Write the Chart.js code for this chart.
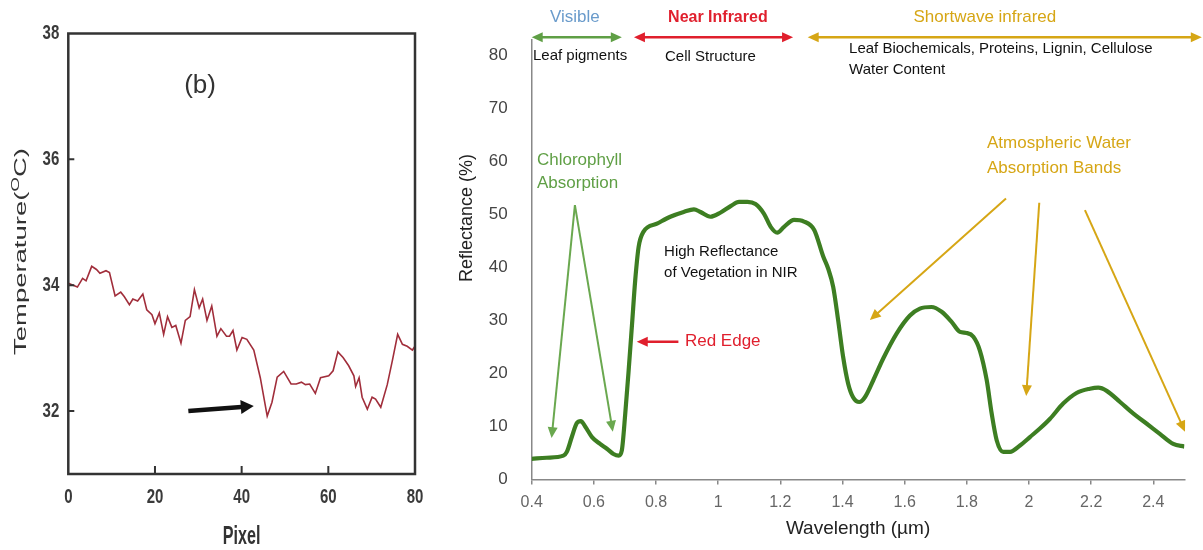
<!DOCTYPE html>
<html lang="en">
<head>
<meta charset="UTF-8">
<title>Temperature profile and vegetation reflectance</title>
<script src="https://cdn.jsdelivr.net/npm/chart.js"></script>
<style>
  body { margin: 0; background: #fff; width: 1203px; height: 550px; overflow: hidden; position: relative; }
  #left { position: absolute; left: 0; top: 0; }
  #right { position: absolute; left: 440px; top: 0; }
</style>
</head>
<body>
<canvas id="left" width="440" height="550"></canvas>
<canvas id="right" width="763" height="550"></canvas>
<script>
// ---- panel (b): temperature along a line of pixels ----
const pixelX = [0, 2.1, 3.3, 4.1, 5.4, 6.5, 7.3, 8.7, 9.5, 10.8, 12.1, 12.9, 14.1, 14.9, 16, 17.2, 18.1, 19.3, 20,
  21, 22, 22.9, 23.9, 24.8, 26, 27, 28.1, 29.1, 30.2, 31, 32, 33.1, 34.3, 35.2, 36.5, 37.2, 38, 38.9, 40.1, 41.2,
  42.8, 44.3, 45.9, 47, 48.2, 49.7, 51.4, 52.6, 53.8, 54.7, 55.7, 57, 58.2, 60.1, 61.1, 62.2, 63.4, 64.7, 65.9,
  66.3, 67.1, 67.8, 69, 70.1, 70.9, 72.1, 73.6, 74.8, 76, 77.1, 78.2, 79.4, 80];
const temperature = [34.03, 33.97, 34.11, 34.07, 34.3, 34.25, 34.19, 34.23, 34.2, 33.83, 33.89, 33.82, 33.69, 33.78,
  33.75, 33.86, 33.61, 33.53, 33.39, 33.56, 33.22, 33.5, 33.33, 33.36, 33.08, 33.44, 33.5, 33.93, 33.64, 33.78,
  33.44, 33.67, 33.19, 33.31, 33.19, 33.19, 33.28, 32.97, 33.17, 33.14, 32.97, 32.53, 31.92, 32.14, 32.54, 32.63,
  32.43, 32.43, 32.46, 32.42, 32.43, 32.28, 32.53, 32.56, 32.64, 32.94, 32.85, 32.72, 32.56, 32.39, 32.53, 32.22,
  32.03, 32.22, 32.19, 32.06, 32.42, 32.81, 33.22, 33.06, 33.03, 32.97, 33.03];
const pixelTicks = [0, 20, 40, 60, 80];
const tempTicks = [32, 34, 36, 38];

// ---- vegetation reflectance spectrum ----
const wavelength = [0.4, 0.448, 0.502, 0.513, 0.529, 0.545, 0.558, 0.572, 0.594, 0.62, 0.642, 0.663, 0.68, 0.69,
  0.701, 0.712, 0.723, 0.733, 0.744, 0.76, 0.803, 0.846, 0.889, 0.922, 0.943, 0.975, 1.008, 1.04, 1.067, 1.094,
  1.12, 1.147, 1.169, 1.19, 1.212, 1.244, 1.276, 1.309, 1.338, 1.354, 1.37, 1.386, 1.402, 1.418, 1.434, 1.454,
  1.472, 1.499, 1.531, 1.574, 1.617, 1.649, 1.686, 1.719, 1.751, 1.778, 1.799, 1.821, 1.842, 1.864, 1.88, 1.896,
  1.917, 1.939, 1.971, 2.003, 2.035, 2.067, 2.11, 2.153, 2.196, 2.223, 2.25, 2.293, 2.336, 2.379, 2.421, 2.464, 2.5];
const reflectance = [3.9, 4.1, 4.5, 5.2, 8.0, 10.6, 11.0, 10.0, 8.0, 6.7, 5.8, 4.8, 4.5, 5.5, 12.4, 20.6, 29.4,
  37.5, 43.8, 46.7, 48.2, 49.5, 50.4, 50.9, 50.4, 49.5, 50.3, 51.5, 52.3, 52.3, 51.9, 50.1, 47.6, 46.5, 47.6, 48.9,
  48.6, 47.0, 42.0, 39.7, 36.3, 30.0, 23.1, 18.1, 15.5, 14.6, 15.5, 18.7, 22.8, 27.5, 30.9, 32.2, 32.5, 31.6, 29.7,
  27.8, 27.6, 26.9, 24.3, 18.7, 12.4, 7.4, 5.2, 5.2, 6.4, 8.0, 9.6, 11.4, 14.3, 16.3, 17.1, 17.3, 16.7, 14.6, 12.4,
  10.5, 8.6, 6.7, 6.2];
const wavelengthTicks = [0.4, 0.6, 0.8, 1, 1.2, 1.4, 1.6, 1.8, 2, 2.2, 2.4];
const reflectanceTicks = [0, 10, 20, 30, 40, 50, 60, 70, 80];

// colours
const GREEN = '#5f9f45', RED = '#e01f2d', GOLD = '#d6a615', BLUE = '#6a9bcb';
const SANS = "'Liberation Sans', Arial, sans-serif";

// labels and arrows of the spectrum panel, in wavelength / reflectance units
const spectrumTexts = [
  ['Visible', 0.539, 87.1, BLUE, '17px', 'center'],
  ['Near Infrared', 0.999, 87.1, RED, 'bold 16px', 'center'],
  ['Shortwave infrared', 1.858, 87.1, GOLD, '17px', 'center'],
  ['Leaf pigments', 0.404, 79.9, '#111', '15px', 'left'],
  ['Cell Structure', 0.829, 79.6, '#111', '15px', 'left'],
  ['Leaf Biochemicals, Proteins, Lignin, Cellulose', 1.421, 81.2, '#111', '15px', 'left'],
  ['Water Content', 1.421, 77.1, '#111', '15px', 'left'],
  ['Chlorophyll', 0.417, 60.2, GREEN, '17px', 'left'],
  ['Absorption', 0.417, 55.8, GREEN, '17px', 'left'],
  ['High Reflectance', 0.826, 42.9, '#111', '15px', 'left'],
  ['of Vegetation in NIR', 0.826, 38.9, '#111', '15px', 'left'],
  ['Red Edge', 0.893, 25.95, RED, '17px', 'left'],
  ['Atmospheric Water', 1.865, 63.4, GOLD, '17px', 'left'],
  ['Absorption Bands', 1.865, 58.7, GOLD, '17px', 'left']
];
const spectrumArrows = [
  // x1, y1, x2, y2, colour, width, both ends
  [0.400, 83.3, 0.690, 83.3, GREEN, 2.5, true],
  [0.729, 83.3, 1.241, 83.3, RED, 2.5, true],
  [1.288, 83.3, 2.556, 83.3, GOLD, 2.5, true],
  [0.539, 51.7, 0.464, 7.8, '#6aa84f', 2, false],
  [0.539, 51.7, 0.661, 9.0, '#6aa84f', 2, false],
  [0.872, 25.95, 0.738, 25.95, RED, 2.5, false],
  [1.926, 52.96, 1.488, 30.04, GOLD, 2, false],
  [2.033, 52.13, 1.991, 15.72, GOLD, 2, false],
  [2.180, 50.75, 2.502, 9.0, GOLD, 2, false]
];

function head(ctx, x1, y1, x2, y2, len, half) {
  const a = Math.atan2(y2 - y1, x2 - x1), c = Math.cos(a), s = Math.sin(a);
  ctx.beginPath();
  ctx.moveTo(x2, y2);
  ctx.lineTo(x2 - len * c + half * s, y2 - len * s - half * c);
  ctx.lineTo(x2 - len * c - half * s, y2 - len * s + half * c);
  ctx.closePath();
  ctx.fill();
}

function arrow(ctx, x1, y1, x2, y2, color, width, both, len, half) {
  const a = Math.atan2(y2 - y1, x2 - x1), c = Math.cos(a), s = Math.sin(a);
  const cut = len * 0.7;
  ctx.save();
  ctx.strokeStyle = color;
  ctx.fillStyle = color;
  ctx.lineWidth = width;
  ctx.beginPath();
  ctx.moveTo(both ? x1 + cut * c : x1, both ? y1 + cut * s : y1);
  ctx.lineTo(x2 - cut * c, y2 - cut * s);
  ctx.stroke();
  head(ctx, x1, y1, x2, y2, len, half);
  if (both) head(ctx, x2, y2, x1, y1, len, half);
  ctx.restore();
}

// the old figure is squeezed sideways, so its texts are drawn with a horizontal scale
function squeezed(ctx, text, x, y, sx, align) {
  ctx.save();
  ctx.translate(x, y);
  ctx.scale(sx, 1);
  ctx.textAlign = align;
  ctx.fillText(text, 0, 0);
  ctx.restore();
}

const fixTicks = list => scale => { scale.ticks = list.map(v => ({ value: v })); };

// left panel decorations: frame, inward ticks, tick labels, titles, arrow
const leftDecor = {
  id: 'leftDecor',
  afterDraw(chart) {
    const ctx = chart.ctx, a = chart.chartArea, x = chart.scales.x, y = chart.scales.y;
    ctx.save();
    ctx.strokeStyle = '#333';
    ctx.lineWidth = 2.5;
    ctx.strokeRect(a.left, a.top, a.right - a.left, a.bottom - a.top);
    ctx.lineWidth = 2;
    ctx.beginPath();
    [20, 40, 60].forEach(v => { const px = x.getPixelForValue(v); ctx.moveTo(px, a.bottom); ctx.lineTo(px, a.bottom - 8); });
    [32, 34, 36].forEach(v => { const py = y.getPixelForValue(v); ctx.moveTo(a.left, py); ctx.lineTo(a.left + 6, py); });
    ctx.stroke();

    // black arrow pointing to the dip
    arrow(ctx, x.getPixelForValue(27.7), y.getPixelForValue(32.0), x.getPixelForValue(42.8), y.getPixelForValue(32.08),
      '#111', 4.5, false, 13, 7);

    ctx.fillStyle = '#3a3a3a';
    ctx.textBaseline = 'middle';
    ctx.font = 'bold 20px ' + SANS;
    x.ticks.forEach(t => squeezed(ctx, String(t.value), x.getPixelForValue(t.value), 497, 0.75, 'center'));
    y.ticks.forEach(t => squeezed(ctx, String(t.value), a.left - 9, y.getPixelForValue(t.value), 0.75, 'right'));

    ctx.fillStyle = '#333';
    ctx.textAlign = 'center';
    ctx.font = '26px ' + SANS;
    ctx.fillText('(b)', x.getPixelForValue(30.4), y.getPixelForValue(37.17));

    ctx.font = 'bold 26px ' + SANS;
    squeezed(ctx, 'Pixel', (a.left + a.right) / 2, 537, 0.62, 'center');

    // y title with superscript O, stretched along its length
    ctx.save();
    ctx.translate(22, 251.5);
    ctx.rotate(-Math.PI / 2);
    ctx.font = '16px ' + SANS;
    const w1 = ctx.measureText('Temperature(').width;
    ctx.font = '11px ' + SANS;
    const w2 = ctx.measureText('O').width;
    ctx.font = '16px ' + SANS;
    const w3 = ctx.measureText('C)').width;
    const total = w1 + w2 + w3;
    ctx.scale(207 / total, 1);
    ctx.textAlign = 'left';
    ctx.fillText('Temperature(', -total / 2, 0);
    ctx.font = '11px ' + SANS;
    ctx.fillText('O', -total / 2 + w1, -6);
    ctx.font = '16px ' + SANS;
    ctx.fillText('C)', -total / 2 + w1 + w2, 0);
    ctx.restore();
    ctx.restore();
  }
};

// right panel decorations: titles, band labels, arrows
const rightDecor = {
  id: 'rightDecor',
  afterDraw(chart) {
    const ctx = chart.ctx, a = chart.chartArea, x = chart.scales.x, y = chart.scales.y;
    ctx.save();
    ctx.textBaseline = 'middle';
    spectrumArrows.forEach(([x1, y1, x2, y2, col, w, both]) => {
      arrow(ctx, x.getPixelForValue(x1), y.getPixelForValue(y1), x.getPixelForValue(x2), y.getPixelForValue(y2),
        col, w, both, 11, 5);
    });
    spectrumTexts.forEach(([t, wl, r, col, f, al]) => {
      ctx.fillStyle = col;
      ctx.font = f + ' ' + SANS;
      ctx.textAlign = al;
      ctx.fillText(t, x.getPixelForValue(wl), y.getPixelForValue(r));
    });
    ctx.fillStyle = '#222';
    ctx.textAlign = 'center';
    ctx.font = '19px ' + SANS;
    ctx.fillText('Wavelength (\u00b5m)', (a.left + a.right) / 2, 529);
    ctx.translate(27, 218);
    ctx.rotate(-Math.PI / 2);
    ctx.font = '18px ' + SANS;
    ctx.fillText('Reflectance (%)', 0, 0);
    ctx.restore();
  }
};

new Chart(document.getElementById('left'), {
  type: 'line',
  data: {
    datasets: [{
      data: pixelX.map((p, i) => ({ x: p, y: temperature[i] })),
      borderColor: '#a12e3b',
      borderWidth: 1.6,
      pointRadius: 0,
      tension: 0
    }]
  },
  options: {
    responsive: false,
    animation: false,
    layout: { padding: { top: 33.5, right: 25, left: 0, bottom: 0 } },
    plugins: { legend: { display: false }, tooltip: { enabled: false } },
    scales: {
      x: {
        type: 'linear', min: 0, max: 80,
        afterBuildTicks: fixTicks(pixelTicks),
        afterFit: s => { s.height = 76; },
        grid: { display: false }, border: { display: false },
        ticks: { display: false }
      },
      y: {
        min: 31, max: 38,
        afterBuildTicks: fixTicks(tempTicks),
        afterFit: s => { s.width = 68.3; },
        grid: { display: false }, border: { display: false },
        ticks: { display: false }
      }
    }
  },
  plugins: [leftDecor]
});

new Chart(document.getElementById('right'), {
  type: 'line',
  data: {
    datasets: [{
      data: wavelength.map((w, i) => ({ x: w, y: reflectance[i] })),
      borderColor: '#3d7e22',
      borderWidth: 4.2,
      pointRadius: 0,
      cubicInterpolationMode: 'monotone'
    }]
  },
  options: {
    responsive: false,
    animation: false,
    layout: { padding: { top: 40, right: 18.6, left: 0, bottom: 0 } },
    plugins: { legend: { display: false }, tooltip: { enabled: false } },
    scales: {
      x: {
        type: 'linear', min: 0.4, max: 2.5,
        afterBuildTicks: fixTicks(wavelengthTicks),
        afterFit: s => { s.height = 70.5; },
        grid: { display: true, drawOnChartArea: false, drawTicks: true, tickLength: 5, color: '#888', lineWidth: 1.5 },
        border: { display: true, color: '#888', width: 1.5 },
        ticks: { padding: 8, color: '#666', maxRotation: 0, font: { family: SANS, size: 16 },
          callback: v => String(Math.round(v * 10) / 10) }
      },
      y: {
        min: 0, max: 82.8,
        afterBuildTicks: fixTicks(reflectanceTicks),
        afterFit: s => { s.width = 91.7; },
        grid: { display: false },
        border: { display: true, color: '#888', width: 1.5 },
        ticks: { padding: 16, color: '#444', font: { family: SANS, size: 17 } }
      }
    }
  },
  plugins: [rightDecor]
});
</script>
</body>
</html>
